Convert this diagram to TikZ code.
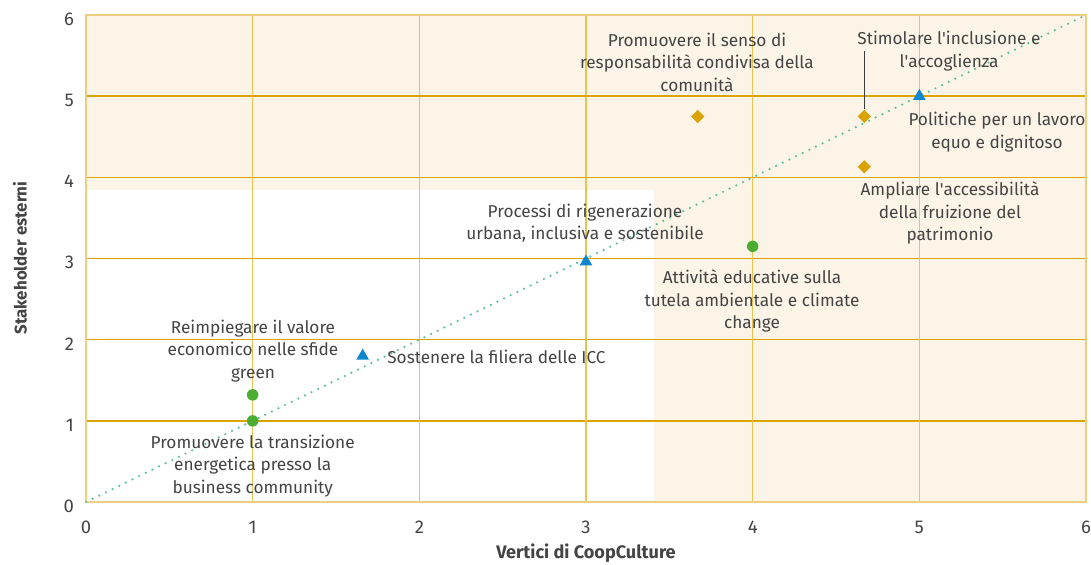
\documentclass[tikz,border=0pt]{standalone}
\usepackage{fontspec}
\setmainfont{Fira Sans}
\usetikzlibrary{shapes.geometric}

\definecolor{crema}{RGB}{252,244,231}
\definecolor{gridh}{RGB}{219,164,0}
\definecolor{gridv}{RGB}{234,195,82}
\definecolor{bordo}{RGB}{237,208,127}
\definecolor{verde}{RGB}{75,174,50}
\definecolor{azzurro}{RGB}{11,134,208}
\definecolor{oro}{RGB}{217,162,0}
\definecolor{tealpunti}{RGB}{91,191,160}
\definecolor{testo}{RGB}{68,68,68}
\definecolor{guida}{RGB}{60,60,60}

\begin{document}
\begin{tikzpicture}[x=3.3333cm,y=1.6233cm]

	%DEFINICIONES
	\tikzstyle{every node}=[font=\fontsize{9.8}{12.7}\selectfont, text=testo]
	\tikzstyle{etiqueta} = [align=center, inner sep=0pt]
	\tikzstyle{tick} = [inner sep=0pt, font=\fontsize{10.5}{12}\selectfont]
	\tikzstyle{titulo} = [inner sep=0pt, font=\fontsize{10.3}{12}\selectfont\bfseries]
	\tikzstyle{punto} = [circle, fill=verde, inner sep=0pt, minimum size=0.23cm]
	\tikzstyle{triangulo} = [regular polygon, regular polygon sides=3, fill=azzurro, inner sep=0pt, minimum size=0.29cm]
	\tikzstyle{rombo} = [diamond, fill=oro, inner sep=0pt, minimum width=0.27cm, minimum height=0.27cm]
	\tikzstyle{rejilla} = [line width=0.8pt]
	\tikzstyle{linea} = [line width=0.7pt, draw=guida]
	\tikzstyle{punteado} = [line width=1.4pt, line cap=round, dash pattern=on 0pt off 4.2pt, draw=tealpunti]

	\useasboundingbox (-0.516,-0.764) rectangle (6.03,6.185);

	%FONDO
	\fill[crema] (0,0) rectangle (6,6);
	\fill[white] (0,0) rectangle (3.41,3.85);
	\foreach \i in {1,...,5} {
		\draw[rejilla, gridv] (\i,0) -- (\i,6);
		\draw[rejilla, gridh] (0,\i) -- (6,\i);
	}
	\draw[line width=1.1pt, bordo] (0,0) rectangle (6,6);

	%EJES
	\foreach \i in {0,...,6} {
		\draw(\i,-0.31) node[tick](x\i){\i};
		\draw(-0.07,\i-0.05) node[tick, anchor=east](y\i){\i};
	}
	\draw(3.0,-0.628) node[titulo](ejex){Vertici di CoopCulture};
	\draw(-0.396,3.006) node[titulo, rotate=90, font=\fontsize{9.6}{12}\selectfont\bfseries](ejey){Stakeholder esterni};

	%PUNTOS
	\coordinate (o) at (0,0);
	\coordinate (f) at (6,6);
	\draw[punteado] (o) -- (f);
	\draw(1,1) node[punto](v1){};
	\draw(1,1.32) node[punto](v2){};
	\draw(4,3.15) node[punto](v3){};
	\draw(1.66,1.8) node[triangulo](a1){};
	\draw(3,2.96) node[triangulo](a2){};
	\draw(5,5) node[triangulo](a3){};
	\draw(3.67,4.75) node[rombo](r1){};
	\draw(4.67,4.75) node[rombo](r2){};
	\draw(4.67,4.13) node[rombo](r3){};

	%ETIQUETAS
	\draw(3.666,5.42) node[etiqueta](e1){Promuovere il senso di\\responsabilità condivisa della\\comunità};
	\draw(5.178,5.556) node[etiqueta](e2){Stimolare l\textquotesingle inclusione e\\l\textquotesingle accoglienza};
	\draw(5.466,4.558) node[etiqueta](e3){Politiche per un lavoro\\equo e dignitoso};
	\draw(5.184,3.56) node[etiqueta](e4){Ampliare l\textquotesingle accessibilità\\della fruizione del\\patrimonio};
	\draw(2.994,3.437) node[etiqueta](e5){Processi di rigenerazione\\urbana, inclusiva e sostenibile};
	\draw(3.996,2.476) node[etiqueta](e6){Attività educative sulla\\tutela ambientale e climate\\change};
	\draw(1.002,1.86) node[etiqueta](e7){Reimpiegare il valore\\economico nelle sfide\\green};
	\draw(1.806,1.786) node[etiqueta, anchor=west](e8){Sostenere la filiera delle ICC};
	\draw(1.0,0.443) node[etiqueta](e9){Promuovere la transizione\\energetica presso la\\business community};

	%GUIA
	\draw[linea] (r2.north) -- (r2 |- e2.center);
\end{tikzpicture}
\end{document}
